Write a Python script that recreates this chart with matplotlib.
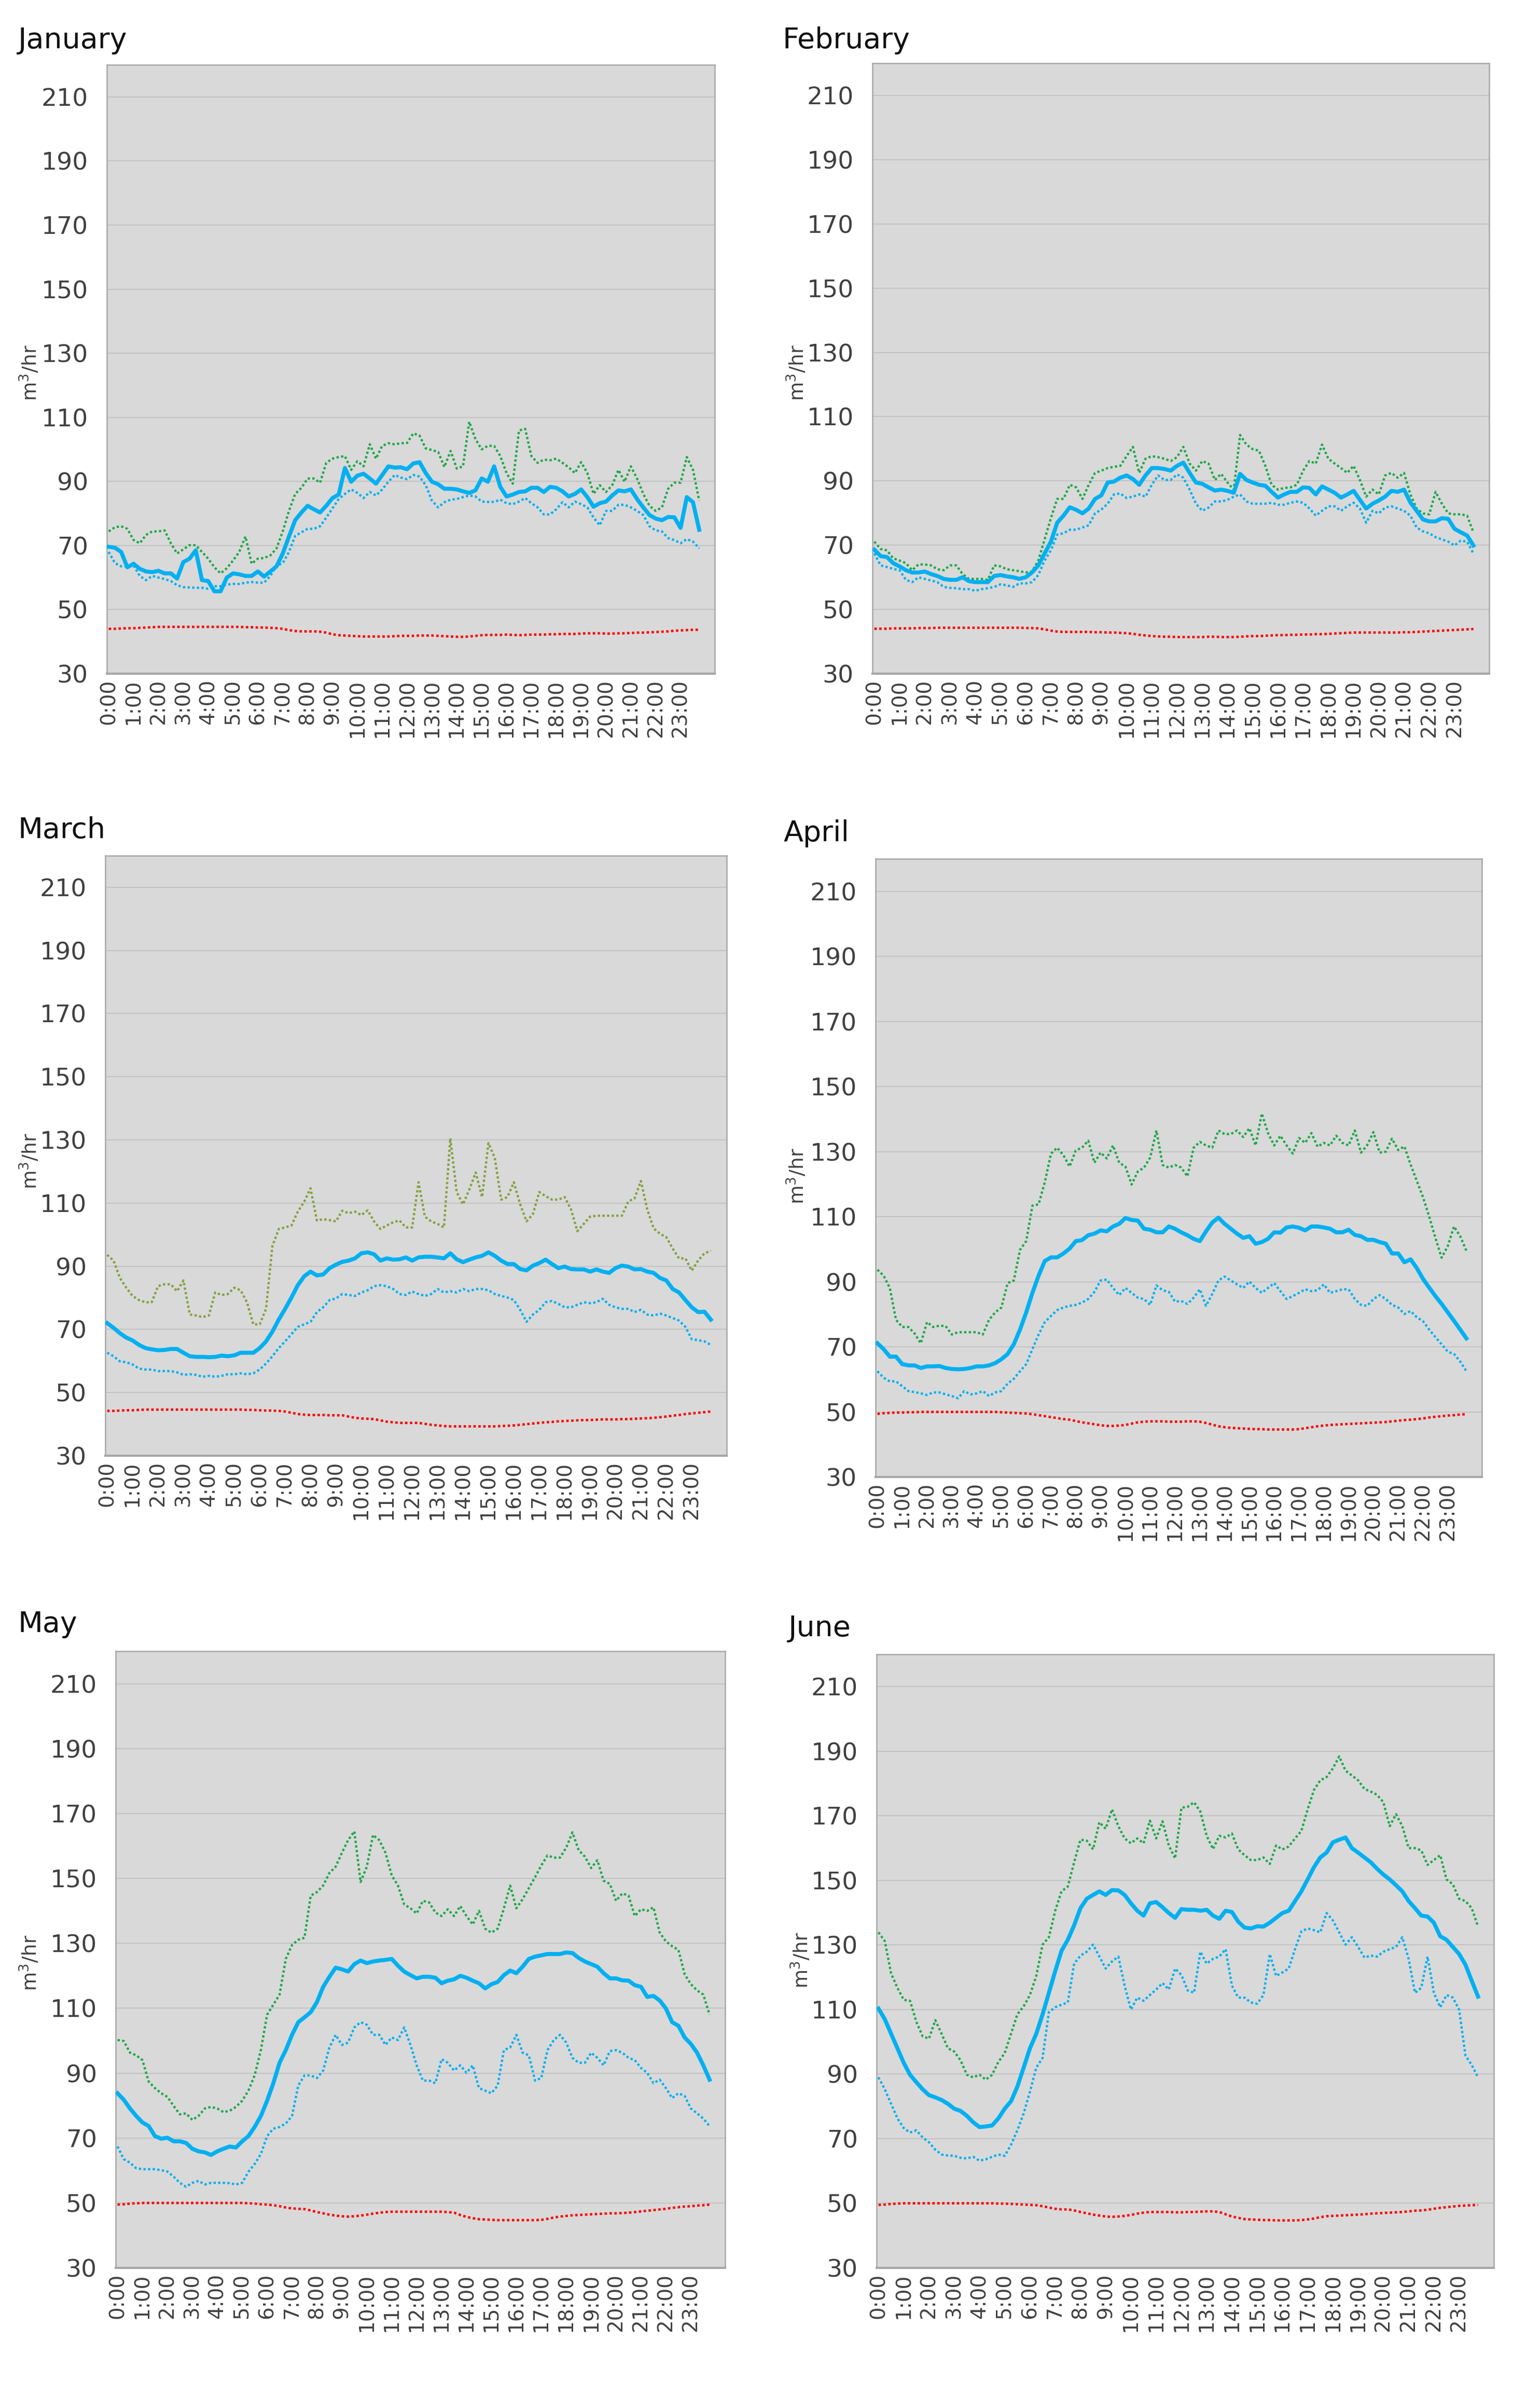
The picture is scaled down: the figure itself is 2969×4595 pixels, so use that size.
import matplotlib
matplotlib.use("Agg")
import matplotlib.pyplot as plt

W, H = 2969, 4595

TICK_LABELS = ["0:00", "1:00", "2:00", "3:00", "4:00", "5:00", "6:00", "7:00",
               "8:00", "9:00", "10:00", "11:00", "12:00", "13:00", "14:00", "15:00",
               "16:00", "17:00", "18:00", "19:00", "20:00", "21:00", "22:00", "23:00"]
Y_TICKS = [30, 50, 70, 90, 110, 130, 150, 170, 190, 210]
MONTHS = ["January", "February", "March", "April", "May", "June"]
Y_UNIT = "m$^3$/hr"

# ---------------- January ----------------
JAN_MEAN = [69.6, 69.3, 68.0, 63.2, 64.3, 62.7, 61.9, 61.7, 62.1, 61.3, 61.3, 59.7,
            64.8, 65.9, 68.5, 59.2, 58.9, 55.7, 55.7, 60.0, 61.3, 61.0, 60.5, 60.5,
            61.9, 60.3, 61.9, 63.5, 67.5, 72.8, 77.9, 80.3, 82.4, 81.3, 80.3, 82.4,
            84.8, 85.9, 94.2, 89.9, 91.8, 92.4, 90.9, 89.3, 92.0, 94.7, 94.3, 94.4,
            93.8, 95.6, 96.0, 92.6, 89.9, 89.1, 87.7, 87.7, 87.5, 86.9, 86.4, 87.2,
            90.9, 89.9, 94.7, 88.3, 85.3, 85.9, 86.7, 86.9, 88.0, 88.0, 86.7, 88.3,
            88.0, 86.9, 85.3, 86.1, 87.5, 85.1, 82.1, 83.2, 83.7, 85.6, 87.2, 86.9,
            87.5, 84.5, 81.9, 79.5, 78.4, 77.9, 78.9, 78.8, 75.5, 85.1, 83.5, 74.9]
JAN_LOW = [68.0, 64.5, 63.5, 63.5, 63.7, 60.5, 59.2, 60.5, 60.0, 59.5, 58.9, 57.6,
           57.0, 56.9, 56.8, 56.8, 56.5, 57.3, 57.3, 57.8, 58.0, 58.0, 58.4, 58.6,
           58.4, 58.4, 60.5, 63.7, 64.5, 68.0, 73.0, 74.1, 75.2, 75.2, 76.0, 78.7,
           81.6, 84.5, 86.1, 87.5, 86.4, 84.8, 86.7, 85.6, 87.5, 89.9, 92.0, 91.2,
           90.7, 92.0, 91.5, 88.8, 84.0, 81.9, 83.5, 84.3, 84.5, 85.1, 85.6, 85.3,
           83.7, 83.6, 83.6, 84.3, 83.2, 82.9, 83.7, 84.8, 83.2, 81.9, 79.7, 79.7,
           81.3, 83.5, 81.9, 83.7, 82.9, 81.9, 78.7, 76.3, 80.8, 80.8, 82.7, 82.7,
           81.9, 80.8, 79.5, 76.0, 74.7, 74.4, 72.3, 71.7, 70.7, 72.0, 71.2, 69.1]
JAN_HIGH = [74.4, 75.7, 76.0, 75.2, 71.7, 70.7, 73.3, 74.4, 74.4, 74.7, 70.7, 67.5,
            68.8, 70.1, 70.1, 68.0, 65.9, 63.2, 61.3, 62.9, 65.3, 68.0, 72.8, 64.3,
            65.9, 66.1, 66.9, 69.1, 74.4, 80.8, 86.1, 88.0, 90.9, 90.9, 89.6, 95.8,
            97.1, 97.6, 97.9, 93.6, 96.3, 94.7, 101.6, 97.1, 101.1, 101.9, 101.6, 101.9,
            102.0, 105.0, 104.3, 100.3, 99.8, 99.2, 94.5, 99.5, 94.0, 94.7, 108.6, 103.2,
            100.0, 101.1, 101.1, 97.9, 92.6, 89.3, 105.9, 106.4, 97.9, 95.8, 96.8, 96.6,
            97.1, 95.8, 94.4, 92.6, 96.0, 92.6, 86.1, 88.8, 86.7, 88.8, 93.6, 89.9,
            94.7, 90.9, 86.1, 82.4, 80.8, 81.9, 87.7, 89.6, 89.6, 97.6, 93.6, 84.0]
JAN_BASE = [44.0, 44.0, 44.1, 44.2, 44.2, 44.3, 44.4, 44.5, 44.6, 44.6, 44.6, 44.6,
            44.6, 44.6, 44.6, 44.6, 44.6, 44.6, 44.6, 44.6, 44.6, 44.6, 44.5, 44.5,
            44.4, 44.4, 44.3, 44.2, 44.0, 43.6, 43.3, 43.2, 43.2, 43.2, 43.1, 42.8,
            42.3, 42.0, 41.9, 41.8, 41.7, 41.6, 41.6, 41.6, 41.6, 41.6, 41.7, 41.8,
            41.8, 41.8, 41.9, 41.9, 41.9, 41.8, 41.7, 41.6, 41.5, 41.5, 41.6, 41.8,
            42.0, 42.1, 42.1, 42.1, 42.2, 42.1, 42.0, 42.1, 42.2, 42.2, 42.2, 42.3,
            42.3, 42.4, 42.4, 42.4, 42.5, 42.6, 42.6, 42.6, 42.5, 42.5, 42.6, 42.6,
            42.7, 42.8, 42.8, 42.9, 43.0, 43.1, 43.2, 43.4, 43.5, 43.6, 43.7, 43.7]

# ---------------- February ----------------
FEB_MEAN = [68.6, 66.6, 66.3, 64.4, 63.4, 62.2, 61.5, 61.5, 61.8, 61.0, 60.4, 59.5,
            59.2, 59.2, 60.0, 58.8, 58.5, 58.5, 58.5, 60.4, 60.7, 60.3, 60.0, 59.5,
            60.0, 61.5, 63.7, 67.4, 71.1, 77.0, 79.2, 81.8, 81.0, 79.9, 81.4, 84.4,
            85.5, 89.5, 89.8, 91.0, 91.7, 90.6, 88.8, 91.7, 94.0, 94.0, 93.7, 93.2,
            94.7, 95.7, 92.5, 89.5, 89.1, 88.0, 87.0, 87.3, 86.9, 86.3, 92.2, 90.3,
            89.5, 88.8, 88.5, 86.6, 84.8, 85.8, 86.6, 86.6, 88.0, 87.8, 85.8, 88.3,
            87.3, 86.3, 84.8, 85.8, 86.9, 84.1, 81.4, 82.9, 83.9, 85.1, 86.9, 86.6,
            87.3, 83.3, 80.7, 78.0, 77.4, 77.4, 78.4, 78.2, 75.1, 74.0, 73.0, 69.9]
FEB_LOW = [67.4, 63.7, 63.2, 62.6, 62.2, 59.2, 58.5, 60.0, 59.5, 59.0, 58.5, 57.0,
           56.7, 56.6, 56.3, 56.3, 55.8, 56.3, 56.6, 57.0, 57.8, 57.5, 57.0, 58.1,
           58.1, 58.5, 60.7, 65.2, 68.4, 73.3, 73.7, 74.8, 74.8, 75.5, 76.2, 79.9,
           81.1, 82.9, 85.8, 86.1, 84.7, 85.1, 85.8, 85.1, 88.8, 91.7, 90.3, 90.3,
           92.0, 91.0, 87.3, 82.9, 80.7, 81.7, 83.6, 83.6, 84.1, 85.1, 85.8, 83.6,
           82.9, 82.9, 82.9, 83.2, 82.6, 82.6, 83.2, 83.6, 83.2, 81.4, 79.2, 80.7,
           82.1, 82.1, 80.7, 82.1, 83.2, 81.4, 77.0, 80.7, 79.9, 81.7, 82.1, 81.4,
           80.7, 79.2, 75.5, 74.3, 73.7, 72.5, 71.8, 71.1, 69.9, 71.4, 71.1, 67.4]
FEB_HIGH = [71.1, 68.8, 68.4, 65.9, 65.2, 64.4, 62.2, 64.0, 64.0, 63.7, 62.5, 62.2,
            63.7, 63.7, 61.0, 59.5, 59.5, 59.5, 59.2, 63.7, 63.4, 62.5, 62.2, 61.9,
            61.5, 61.8, 65.2, 71.8, 78.4, 84.4, 84.4, 88.8, 88.0, 84.4, 88.8, 92.5,
            93.2, 94.0, 94.4, 94.7, 97.7, 100.6, 92.5, 96.9, 97.7, 97.4, 96.9, 96.2,
            97.4, 100.6, 95.4, 93.2, 96.2, 95.4, 90.3, 92.2, 89.5, 87.3, 104.3, 101.3,
            99.9, 99.4, 94.7, 88.8, 87.3, 87.8, 88.0, 88.8, 93.2, 96.2, 95.4, 101.3,
            96.9, 95.4, 94.0, 92.5, 94.7, 90.3, 85.1, 87.3, 85.8, 91.7, 92.5, 91.0,
            92.5, 85.8, 81.4, 79.9, 79.6, 86.6, 82.9, 79.9, 79.6, 79.6, 79.2, 74.0]
FEB_BASE = [44.0, 44.0, 44.0, 44.1, 44.1, 44.1, 44.1, 44.2, 44.2, 44.2, 44.3, 44.3,
            44.3, 44.3, 44.3, 44.3, 44.3, 44.3, 44.3, 44.3, 44.3, 44.3, 44.3, 44.3,
            44.2, 44.2, 44.1, 43.8, 43.4, 43.1, 43.0, 43.0, 43.0, 43.0, 43.0, 42.9,
            42.9, 42.8, 42.8, 42.7, 42.6, 42.4, 42.1, 41.9, 41.7, 41.6, 41.5, 41.5,
            41.4, 41.4, 41.4, 41.4, 41.4, 41.5, 41.5, 41.4, 41.4, 41.4, 41.5, 41.6,
            41.7, 41.7, 41.8, 41.9, 42.0, 42.0, 42.1, 42.1, 42.2, 42.2, 42.3, 42.3,
            42.4, 42.5, 42.6, 42.7, 42.8, 42.8, 42.8, 42.8, 42.8, 42.8, 42.8, 42.8,
            42.9, 42.9, 43.0, 43.1, 43.2, 43.3, 43.4, 43.5, 43.6, 43.7, 43.8, 43.9]

# ---------------- March ----------------
MAR_MEAN = [72.0, 70.5, 68.8, 67.4, 66.5, 65.1, 64.1, 63.7, 63.4, 63.5, 63.8, 63.8,
            62.6, 61.5, 61.3, 61.3, 61.2, 61.3, 61.7, 61.5, 61.8, 62.6, 62.6, 62.6,
            64.1, 66.2, 69.3, 73.1, 76.5, 80.1, 84.0, 86.8, 88.3, 87.1, 87.4, 89.4,
            90.5, 91.4, 91.8, 92.5, 94.1, 94.4, 93.8, 91.8, 92.5, 92.1, 92.2, 92.8,
            91.8, 92.8, 93.0, 93.0, 92.8, 92.5, 94.1, 92.2, 91.3, 92.1, 92.8, 93.3,
            94.4, 93.3, 91.8, 90.7, 90.7, 89.1, 88.7, 90.2, 91.0, 92.1, 90.7, 89.4,
            89.9, 89.1, 89.0, 89.0, 88.3, 89.0, 88.3, 87.9, 89.4, 90.2, 89.9, 89.0,
            89.1, 88.3, 87.9, 86.3, 85.5, 82.8, 81.7, 79.3, 77.0, 75.5, 75.6, 73.1]
MAR_LOW = [62.6, 61.5, 59.9, 59.6, 58.9, 57.6, 57.3, 57.3, 56.8, 56.8, 56.8, 56.4,
           55.6, 55.8, 55.6, 55.0, 55.3, 55.0, 55.3, 55.8, 55.8, 56.1, 55.8, 56.1,
           57.3, 59.2, 61.5, 64.1, 66.2, 68.5, 70.8, 71.6, 72.4, 75.5, 77.0, 79.3,
           79.8, 81.2, 80.9, 80.6, 81.7, 82.4, 83.7, 84.0, 83.7, 82.8, 81.2, 80.9,
           82.0, 81.2, 80.6, 81.2, 82.8, 81.7, 82.1, 81.7, 82.8, 82.1, 82.8, 82.8,
           82.4, 81.2, 80.6, 80.1, 79.3, 76.2, 72.4, 74.7, 76.2, 78.6, 79.0, 78.1,
           77.0, 77.0, 77.8, 78.6, 78.3, 78.6, 79.7, 77.8, 77.0, 76.5, 76.5, 75.5,
           76.2, 74.7, 74.4, 75.0, 74.4, 73.6, 72.8, 70.8, 66.9, 66.6, 66.2, 65.1]
MAR_HIGH = [93.6, 91.8, 86.3, 83.2, 80.6, 79.3, 78.6, 78.6, 83.7, 84.3, 84.3, 82.1,
            85.5, 74.7, 74.4, 73.9, 74.4, 81.7, 80.9, 81.2, 83.2, 82.4, 78.6, 71.6,
            71.6, 76.5, 96.4, 101.8, 102.3, 102.9, 107.3, 110.4, 114.7, 104.5, 104.9, 104.6,
            104.2, 107.6, 106.8, 107.3, 106.2, 107.7, 104.2, 101.8, 102.9, 103.9, 104.5, 102.3,
            102.3, 116.6, 105.7, 104.2, 103.4, 102.3, 130.5, 113.5, 109.6, 114.3, 119.7, 111.9,
            129.0, 124.3, 111.1, 111.9, 116.6, 109.6, 104.2, 106.5, 113.5, 112.2, 111.1, 111.1,
            111.9, 108.0, 101.1, 103.4, 105.7, 106.0, 106.0, 106.0, 106.0, 106.0, 110.5, 111.5,
            117.0, 108.0, 102.0, 100.3, 99.2, 95.6, 92.5, 92.5, 88.6, 91.8, 94.1, 94.9]
MAR_BASE = [44.2, 44.2, 44.3, 44.4, 44.4, 44.5, 44.6, 44.6, 44.6, 44.6, 44.6, 44.6,
            44.6, 44.6, 44.6, 44.6, 44.6, 44.6, 44.6, 44.6, 44.6, 44.6, 44.5, 44.5,
            44.4, 44.3, 44.3, 44.2, 44.0, 43.6, 43.2, 43.0, 42.9, 42.9, 42.9, 42.8,
            42.8, 42.8, 42.4, 42.0, 41.8, 41.7, 41.6, 41.2, 40.8, 40.6, 40.4, 40.4,
            40.4, 40.4, 40.1, 39.8, 39.6, 39.4, 39.3, 39.3, 39.3, 39.3, 39.3, 39.3,
            39.3, 39.3, 39.4, 39.5, 39.6, 39.8, 40.0, 40.2, 40.4, 40.6, 40.7, 40.9,
            41.0, 41.1, 41.2, 41.3, 41.3, 41.4, 41.5, 41.5, 41.5, 41.6, 41.6, 41.7,
            41.8, 41.9, 42.0, 42.2, 42.4, 42.7, 42.9, 43.2, 43.4, 43.6, 43.8, 44.0]

# ---------------- April ----------------
APR_MEAN = [71.1, 69.3, 67.0, 67.0, 64.7, 64.3, 64.3, 63.5, 64.0, 64.0, 64.1, 63.5,
            63.2, 63.1, 63.2, 63.5, 64.0, 64.0, 64.3, 65.0, 66.2, 67.8, 70.8, 75.3,
            80.6, 86.6, 91.9, 96.4, 97.5, 97.5, 98.7, 100.2, 102.5, 102.8, 104.3, 104.8,
            105.8, 105.5, 107.0, 107.8, 109.6, 109.0, 108.8, 106.3, 106.0, 105.2, 105.2, 107.0,
            106.3, 105.2, 104.3, 103.2, 102.5, 105.5, 108.2, 109.7, 107.8, 106.3, 104.8, 103.5,
            104.0, 101.7, 102.2, 103.2, 105.2, 105.1, 106.7, 107.0, 106.6, 105.8, 107.0, 107.0,
            106.7, 106.3, 105.2, 105.2, 106.0, 104.4, 104.0, 102.9, 102.9, 102.2, 101.7, 98.7,
            98.7, 96.0, 96.9, 94.2, 90.9, 88.2, 85.6, 83.2, 80.6, 78.0, 75.3, 72.6]
APR_LOW = [62.5, 60.5, 59.4, 59.4, 57.9, 56.4, 56.1, 55.7, 55.2, 56.0, 56.0, 55.4,
           54.9, 54.2, 56.4, 55.4, 55.7, 56.4, 54.9, 56.0, 56.4, 58.7, 60.2, 62.5,
           64.7, 69.3, 73.8, 77.6, 79.5, 81.3, 82.1, 82.6, 82.9, 83.6, 84.7, 86.9,
           90.4, 90.7, 88.1, 85.9, 88.1, 86.6, 85.1, 84.7, 82.9, 88.9, 87.4, 86.9,
           83.9, 84.1, 83.2, 85.1, 87.7, 82.6, 86.2, 90.4, 91.6, 90.4, 89.2, 88.1,
           90.1, 88.1, 86.6, 88.1, 89.6, 87.1, 84.7, 85.6, 86.6, 87.7, 87.1, 87.4,
           89.2, 86.6, 87.1, 87.7, 87.7, 84.7, 82.9, 82.6, 84.7, 85.9, 84.7, 82.9,
           82.1, 80.1, 81.0, 79.1, 77.9, 75.3, 73.0, 70.8, 68.5, 67.8, 65.5, 62.5]
APR_HIGH = [93.7, 91.9, 88.1, 78.3, 76.1, 76.1, 74.1, 71.1, 77.6, 76.1, 76.5, 76.4,
            73.8, 74.5, 74.5, 74.5, 74.5, 73.8, 78.3, 80.6, 82.1, 89.6, 90.4, 99.8,
            102.5, 113.4, 113.8, 120.6, 129.4, 131.2, 128.9, 125.4, 130.4, 131.2, 133.4, 126.6,
            129.7, 127.9, 131.9, 126.6, 125.4, 119.9, 123.9, 125.1, 128.2, 136.5, 125.9, 125.1,
            125.9, 125.1, 122.4, 131.2, 133.0, 131.9, 131.2, 136.5, 135.4, 135.4, 136.5, 134.5,
            137.2, 131.9, 141.7, 135.7, 131.9, 134.9, 131.9, 129.4, 134.2, 132.7, 135.7, 131.5,
            132.7, 131.9, 134.9, 132.7, 131.9, 136.5, 129.7, 132.0, 136.0, 129.7, 130.0, 134.0,
            130.5, 131.6, 126.0, 121.0, 116.0, 110.0, 103.5, 97.4, 101.0, 107.0, 104.0, 99.5]
APR_BASE = [49.4, 49.6, 49.7, 49.8, 49.8, 49.9, 49.9, 50.0, 50.0, 50.0, 50.0, 50.0,
            50.0, 50.0, 50.0, 50.0, 50.0, 50.0, 50.0, 50.0, 49.9, 49.8, 49.7, 49.6,
            49.5, 49.3, 49.0, 48.7, 48.4, 48.1, 47.8, 47.6, 47.2, 46.8, 46.5, 46.2,
            45.9, 45.7, 45.7, 45.8, 46.0, 46.4, 46.8, 47.0, 47.1, 47.1, 47.1, 47.0,
            47.0, 47.0, 47.1, 47.1, 47.0, 46.6, 46.1, 45.6, 45.3, 45.1, 45.0, 44.9,
            44.8, 44.7, 44.7, 44.6, 44.6, 44.6, 44.6, 44.6, 44.7, 45.0, 45.3, 45.6,
            45.8, 46.0, 46.1, 46.2, 46.3, 46.4, 46.5, 46.6, 46.7, 46.8, 46.9, 47.1,
            47.3, 47.5, 47.6, 47.8, 48.0, 48.3, 48.5, 48.7, 48.9, 49.0, 49.2, 49.3]

# ---------------- May ----------------
MAY_MEAN = [83.8, 81.8, 79.1, 76.8, 74.8, 73.7, 70.6, 69.8, 70.1, 69.0, 69.0, 68.5,
            66.7, 65.9, 65.6, 64.8, 65.9, 66.7, 67.4, 67.1, 69.0, 70.6, 73.4, 76.8,
            81.5, 86.9, 93.2, 97.1, 101.8, 105.7, 107.2, 108.8, 111.9, 116.6, 119.7, 122.5,
            122.0, 121.3, 123.6, 124.7, 123.9, 124.4, 124.7, 124.9, 125.2, 123.1, 121.3, 120.2,
            119.2, 119.7, 119.7, 119.4, 117.7, 118.5, 118.9, 120.0, 119.4, 118.5, 117.7, 116.1,
            117.4, 118.1, 120.2, 121.6, 120.8, 122.8, 125.2, 125.9, 126.3, 126.7, 126.7, 126.7,
            127.2, 127.0, 125.5, 124.4, 123.6, 122.8, 120.8, 119.2, 119.2, 118.6, 118.5, 117.1,
            116.6, 113.5, 113.8, 112.4, 109.9, 105.7, 104.6, 101.0, 99.0, 96.3, 92.4, 88.0]
MAY_LOW = [67.4, 63.5, 62.4, 60.7, 60.4, 60.4, 60.4, 60.1, 59.7, 58.1, 56.2, 55.0,
           56.2, 56.8, 55.7, 56.2, 56.2, 56.2, 56.1, 55.7, 56.2, 59.6, 62.0, 65.1,
           70.6, 72.9, 73.4, 74.5, 76.8, 86.2, 89.3, 89.3, 88.5, 90.8, 97.9, 101.8,
           98.7, 99.4, 104.1, 105.7, 104.9, 101.8, 101.8, 98.7, 101.0, 100.2, 104.1, 98.7,
           92.4, 87.7, 87.7, 86.9, 94.3, 93.2, 90.8, 92.4, 90.1, 92.4, 85.4, 84.6,
           83.8, 86.2, 97.1, 97.9, 101.8, 96.3, 95.5, 87.7, 88.5, 97.1, 100.2, 101.8,
           99.4, 94.7, 93.2, 93.2, 96.3, 94.7, 92.4, 96.8, 97.1, 96.3, 94.7, 94.0,
           91.6, 90.1, 86.9, 88.0, 85.4, 82.3, 83.8, 83.0, 79.1, 77.6, 76.0, 73.7]
MAY_HIGH = [100.2, 99.9, 96.3, 95.5, 94.0, 87.4, 85.4, 83.8, 82.7, 79.9, 77.3, 77.6,
            75.6, 76.8, 79.1, 79.6, 79.1, 78.0, 78.4, 79.6, 81.5, 84.6, 89.3, 97.1,
            108.0, 111.1, 114.2, 125.2, 129.5, 131.1, 131.7, 144.7, 145.8, 147.8, 151.7, 153.6,
            157.9, 161.8, 164.5, 148.9, 153.6, 163.4, 161.8, 157.9, 150.9, 147.8, 142.0, 140.8,
            139.2, 143.1, 142.6, 139.5, 138.4, 140.5, 138.4, 141.5, 138.4, 135.8, 140.0, 134.5,
            133.3, 134.5, 140.8, 147.8, 140.8, 143.6, 147.0, 150.4, 154.0, 157.1, 156.4, 156.4,
            159.5, 164.2, 158.7, 156.7, 153.2, 155.6, 149.3, 148.3, 143.1, 145.4, 144.7, 138.4,
            140.5, 140.0, 141.1, 133.3, 130.6, 129.1, 128.0, 120.5, 117.4, 115.5, 114.2, 108.0]
MAY_BASE = [49.5, 49.6, 49.8, 49.9, 50.0, 50.0, 50.0, 50.0, 50.0, 50.0, 50.0, 50.0,
            50.0, 50.0, 50.0, 50.0, 50.0, 50.0, 50.0, 50.0, 50.0, 49.9, 49.8, 49.6,
            49.5, 49.3, 49.0, 48.6, 48.3, 48.2, 48.1, 47.7, 47.2, 46.8, 46.4, 46.1,
            45.9, 45.8, 45.9, 46.1, 46.4, 46.7, 47.0, 47.2, 47.3, 47.3, 47.3, 47.3,
            47.3, 47.3, 47.3, 47.3, 47.3, 47.2, 47.0, 46.3, 45.7, 45.3, 45.0, 44.9,
            44.8, 44.7, 44.7, 44.7, 44.7, 44.7, 44.7, 44.7, 44.8, 45.1, 45.5, 45.8,
            46.0, 46.2, 46.3, 46.4, 46.5, 46.6, 46.7, 46.8, 46.8, 46.9, 47.0, 47.2,
            47.4, 47.6, 47.8, 48.0, 48.2, 48.5, 48.7, 48.9, 49.0, 49.2, 49.3, 49.5]

# ---------------- June ----------------
JUN_MEAN = [110.3, 107.0, 102.5, 98.0, 93.5, 89.8, 87.5, 85.3, 83.5, 82.8, 82.0, 80.8,
            79.3, 78.6, 77.1, 75.1, 73.6, 73.8, 74.1, 76.3, 79.3, 81.6, 86.1, 92.0,
            98.0, 102.5, 108.5, 115.2, 121.9, 128.2, 131.6, 136.1, 141.4, 144.3, 145.5, 146.6,
            145.5, 147.0, 146.9, 145.5, 142.9, 140.6, 139.1, 142.9, 143.3, 141.7, 139.9, 138.4,
            141.1, 140.9, 140.9, 140.6, 140.9, 139.1, 138.1, 140.6, 140.2, 137.2, 135.4, 135.1,
            135.8, 135.7, 136.9, 138.4, 139.9, 140.6, 143.6, 146.6, 150.3, 154.1, 157.1, 158.6,
            161.8, 162.6, 163.3, 160.0, 158.6, 157.1, 155.6, 153.6, 151.8, 150.3, 148.5, 146.6,
            143.6, 141.4, 139.1, 138.8, 136.9, 132.7, 131.6, 129.4, 127.2, 123.9, 118.9, 114.0]
JUN_LOW = [89.0, 85.3, 80.8, 76.3, 73.3, 71.9, 72.6, 70.4, 68.9, 66.6, 65.1, 64.8,
           64.7, 64.1, 63.9, 64.4, 63.2, 63.6, 64.4, 65.1, 64.7, 68.1, 72.6, 77.8,
           84.6, 92.0, 95.0, 109.2, 110.7, 111.5, 112.2, 124.2, 126.7, 127.9, 130.1, 126.4,
           122.7, 124.9, 126.4, 117.4, 110.0, 113.7, 112.7, 114.5, 116.2, 118.2, 116.2, 122.7,
           120.7, 115.9, 115.2, 127.9, 124.2, 125.7, 126.4, 128.7, 117.4, 113.7, 113.7, 112.2,
           111.8, 114.5, 127.2, 120.4, 121.5, 122.7, 128.7, 134.2, 135.1, 134.6, 133.9, 139.9,
           137.6, 133.9, 130.1, 132.4, 129.4, 126.1, 126.7, 126.4, 127.9, 128.7, 129.4, 132.4,
           125.7, 115.2, 116.7, 126.4, 115.2, 110.7, 114.5, 113.7, 110.0, 95.8, 92.8, 89.0]
JUN_HIGH = [133.9, 131.2, 121.2, 116.7, 113.0, 112.7, 106.2, 101.7, 101.0, 106.7, 102.5, 98.0,
            97.0, 94.3, 89.8, 89.0, 89.8, 88.3, 89.8, 93.8, 96.5, 102.5, 108.5, 111.0,
            114.5, 120.4, 130.1, 132.4, 140.6, 146.6, 148.1, 155.6, 162.6, 162.3, 159.6, 168.0,
            166.0, 172.0, 166.8, 163.0, 161.5, 163.0, 161.5, 168.5, 163.0, 168.3, 160.8, 156.8,
            172.5, 172.8, 174.2, 171.3, 163.8, 159.7, 163.8, 163.3, 164.5, 159.6, 157.8, 156.3,
            156.3, 157.1, 155.1, 160.8, 159.6, 160.5, 163.0, 165.3, 172.0, 178.0, 181.0, 182.0,
            184.7, 188.4, 184.0, 182.5, 181.0, 178.3, 177.5, 176.5, 174.2, 166.8, 170.5, 166.8,
            160.0, 160.0, 159.3, 154.8, 156.3, 157.8, 150.3, 148.8, 144.3, 143.6, 141.4, 135.7]
JUN_BASE = [49.5, 49.6, 49.8, 49.9, 50.0, 50.0, 50.0, 50.0, 50.0, 50.0, 50.0, 50.0,
            50.0, 50.0, 50.0, 50.0, 50.0, 50.0, 50.0, 49.9, 49.9, 49.8, 49.7, 49.6,
            49.5, 49.4, 49.1, 48.7, 48.3, 48.1, 48.1, 47.8, 47.3, 46.9, 46.5, 46.2,
            45.9, 45.8, 45.9, 46.1, 46.4, 46.8, 47.1, 47.3, 47.3, 47.3, 47.3, 47.2,
            47.2, 47.3, 47.3, 47.4, 47.5, 47.5, 47.3, 46.6, 45.9, 45.5, 45.1, 45.0,
            44.9, 44.8, 44.8, 44.7, 44.7, 44.7, 44.7, 44.8, 45.0, 45.3, 45.7, 46.0,
            46.1, 46.2, 46.3, 46.4, 46.5, 46.6, 46.8, 46.9, 47.0, 47.1, 47.2, 47.3,
            47.5, 47.7, 47.8, 48.0, 48.3, 48.6, 48.8, 49.0, 49.2, 49.3, 49.4, 49.5]

SERIES = {
    "January": (JAN_MEAN, JAN_LOW, JAN_HIGH, JAN_BASE),
    "February": (FEB_MEAN, FEB_LOW, FEB_HIGH, FEB_BASE),
    "March": (MAR_MEAN, MAR_LOW, MAR_HIGH, MAR_BASE),
    "April": (APR_MEAN, APR_LOW, APR_HIGH, APR_BASE),
    "May": (MAY_MEAN, MAY_LOW, MAY_HIGH, MAY_BASE),
    "June": (JUN_MEAN, JUN_LOW, JUN_HIGH, JUN_BASE),
}

# ---------------- layout (pixels) ----------------
# plot area: left, top, right, bottom ; title x, title y ; y-label x, y
LAYOUT = {
    "January": ((206, 125, 1378, 1299), (35, 78), (58, 719)),
    "February": ((1682, 122, 2871, 1299), (1508, 78), (1537, 719)),
    "March": ((203, 1650, 1401, 2807), (35, 1601), (58, 2239)),
    "April": ((1688, 1656, 2857, 2848), (1511, 1607), (1537, 2268)),
    "May": ((223, 3184, 1398, 4373), (35, 3132), (58, 3785)),
    "June": ((1690, 3190, 2880, 4373), (1520, 3140), (1545, 3780)),
}

BLUE = "#00b0f0"
GREEN = "#1fa84a"
OLIVE = "#86a040"
RED = "#ff0000"
BG = "#d9d9d9"
GRID = "#c4c4c4"
FRAME = "#a6a6a6"
TXT = "#404040"

plt.rcParams["font.family"] = ["DejaVu Sans"]

fig = plt.figure(figsize=(W / 100, H / 100), dpi=100)
fig.patch.set_facecolor("white")

for month in MONTHS:
    (l, t, r, b), (tx, ty), (yx, yy) = LAYOUT[month]
    ax = fig.add_axes([l / W, 1 - b / H, (r - l) / W, (b - t) / H])
    ax.set_facecolor(BG)
    mean, low, high, base = SERIES[month]
    x = list(range(len(mean)))
    high_color = OLIVE if month == "March" else GREEN
    dotted = (0, (1, 1))
    ax.plot(x, high, color=high_color, lw=3.2, ls=dotted, dash_capstyle="butt", zorder=3)
    ax.plot(x, low, color=BLUE, lw=3.2, ls=dotted, dash_capstyle="butt", zorder=3)
    ax.plot(x, base, color=RED, lw=3.4, ls=dotted, dash_capstyle="butt", zorder=3)
    ax.plot(x, mean, color=BLUE, lw=5.6, solid_joinstyle="round", zorder=4)

    ax.set_ylim(30, 220)
    ax.set_xlim(-0.3, 97.5)
    ax.set_yticks(Y_TICKS)
    ax.set_xticks(list(range(0, 96, 4)))
    ax.set_xticklabels(TICK_LABELS, rotation=90)
    ax.tick_params(axis="y", length=0, pad=26, labelsize=34, labelcolor=TXT)
    ax.tick_params(axis="x", length=0, pad=8, labelsize=28, labelcolor=TXT)
    ax.grid(axis="y", color=GRID, lw=1.6, zorder=1)
    ax.grid(axis="x", visible=False)
    ax.set_axisbelow(True)
    for name, sp in ax.spines.items():
        sp.set_color(FRAME)
        sp.set_linewidth(1.8)
    ax.spines["bottom"].set_linewidth(3.0)

    fig.text(tx / W, 1 - ty / H, month, fontsize=40, color="#111111",
             ha="left", va="center")
    fig.text(yx / W, 1 - yy / H, Y_UNIT, fontsize=27, color=TXT,
             rotation=90, ha="center", va="center")

fig.savefig("out.png", dpi=100, facecolor="white")
